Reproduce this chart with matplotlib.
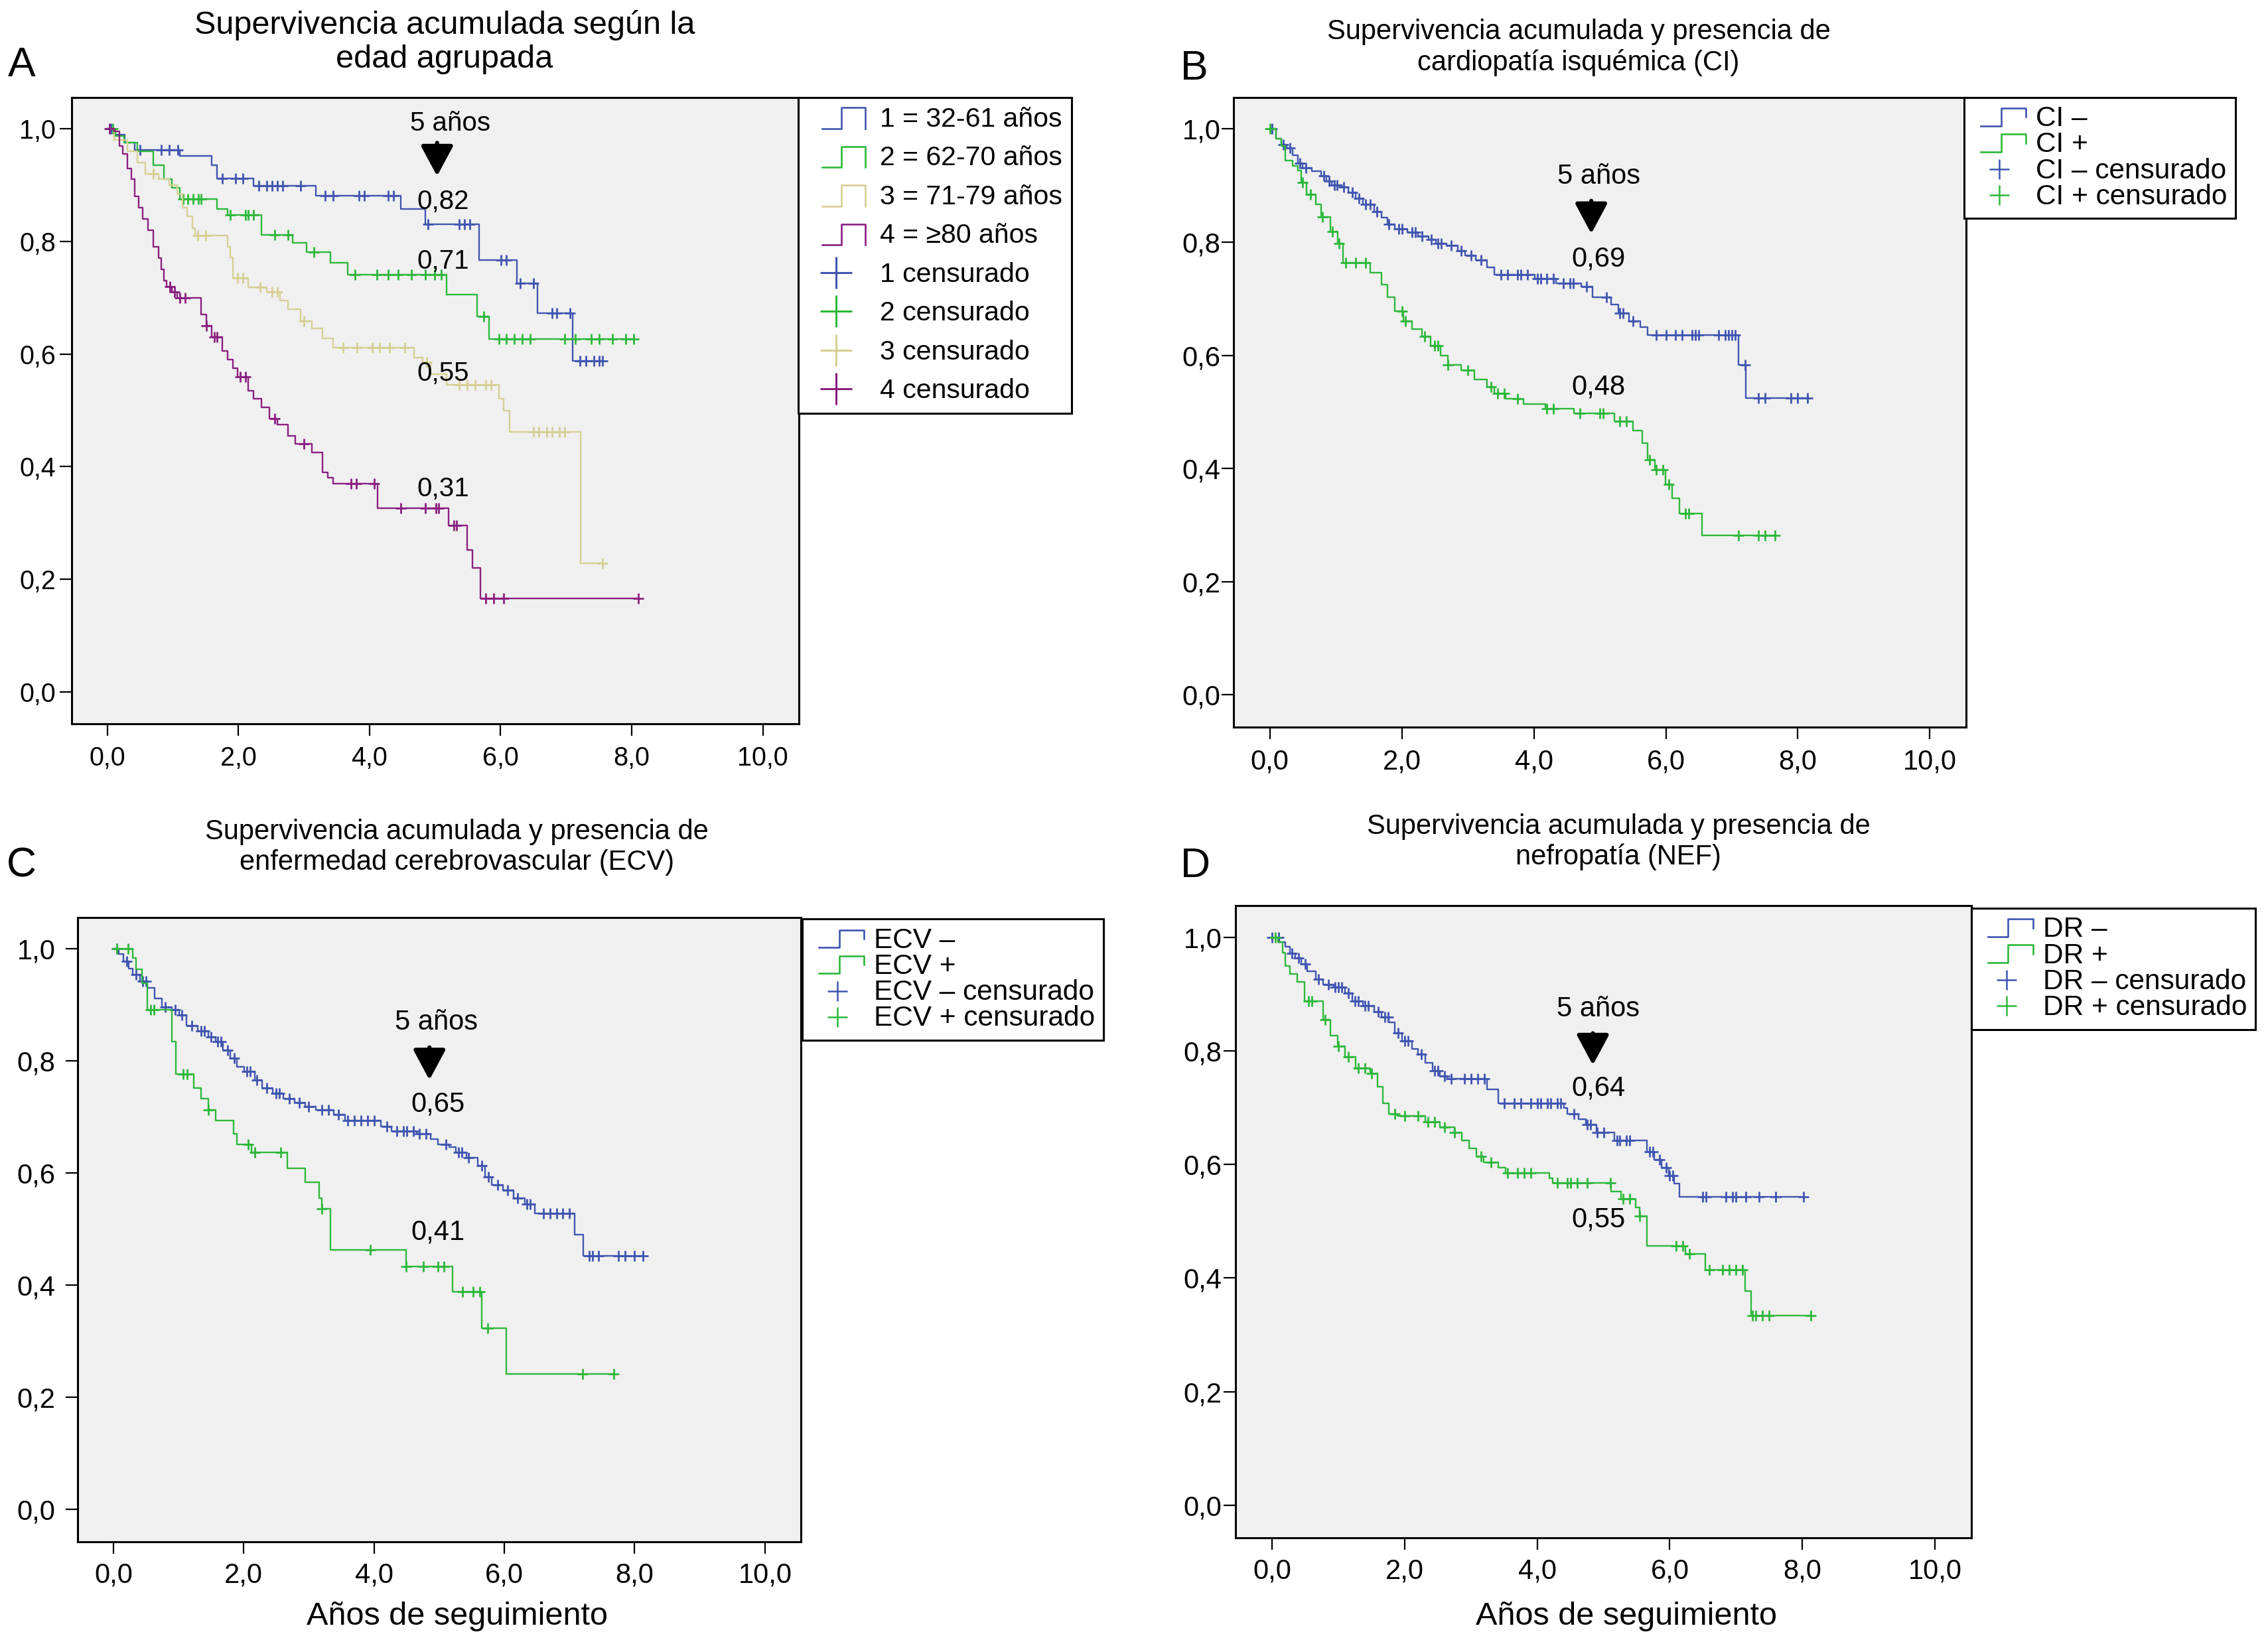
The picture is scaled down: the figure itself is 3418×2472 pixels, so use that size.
import numpy as np
import matplotlib
matplotlib.use('Agg')
import matplotlib.pyplot as plt
from matplotlib.lines import Line2D
from matplotlib.legend_handler import HandlerBase

plt.rcParams['font.family'] = ['Liberation Sans', 'DejaVu Sans']

BLUE = '#3f55b0'
GREEN = '#2db83a'
TAN = '#d6cf94'
PURPLE = '#8a1f80'

# ---- panel A: age groups ----
a1_t = [0, 0.10, 0.26, 0.42, 1.10, 1.59, 1.67, 2.23, 3.18, 4.48, 4.85, 5.67, 6.25, 6.56, 7.10]
a1_s = [1.0, 0.99, 0.975, 0.963, 0.952, 0.935, 0.912, 0.899, 0.881, 0.858, 0.831, 0.767, 0.725, 0.672, 0.588]
a1_c = [0.05, 0.50, 0.82, 0.94, 1.07, 1.75, 1.95, 2.07, 2.31, 2.43, 2.51, 2.59, 2.67, 2.95, 3.32, 3.44,
        3.84, 3.92, 4.28, 4.36, 4.89, 5.37, 5.45, 5.53, 6.01, 6.09, 6.30, 6.50, 6.78, 6.86, 7.06,
        7.21, 7.30, 7.42, 7.50, 7.55]

a2_t = [0, 0.12, 0.25, 0.46, 0.70, 0.86, 0.98, 1.10, 1.67, 1.83, 2.35, 2.83, 3.04, 3.40, 3.67, 5.17, 5.64, 5.82]
a2_s = [1.0, 0.987, 0.975, 0.96, 0.935, 0.91, 0.895, 0.875, 0.858, 0.847, 0.812, 0.797, 0.781, 0.762, 0.741,
        0.705, 0.667, 0.627]
a2_c = [0.08, 1.15, 1.23, 1.31, 1.39, 1.43, 1.87, 2.11, 2.15, 2.23, 2.55, 2.75, 3.15, 3.78, 4.11, 4.28,
        4.44, 4.64, 4.85, 4.99, 5.09, 5.74, 5.97, 6.09, 6.21, 6.33, 6.45, 6.98, 7.14, 7.38, 7.50, 7.71,
        7.91, 8.03]

a3_t = [0, 0.10, 0.30, 0.46, 0.58, 0.78, 0.94, 1.06, 1.14, 1.22, 1.30, 1.34, 1.83, 1.87, 1.91, 2.15, 2.43,
        2.63, 2.75, 2.95, 3.12, 3.28, 3.44, 4.68, 4.81, 4.93, 5.17, 5.97, 6.05, 6.14, 7.22]
a3_s = [1.0, 0.98, 0.96, 0.94, 0.92, 0.91, 0.90, 0.885, 0.86, 0.845, 0.823, 0.81, 0.79, 0.771, 0.735, 0.719,
        0.71, 0.695, 0.68, 0.659, 0.645, 0.628, 0.611, 0.594, 0.585, 0.564, 0.545, 0.52, 0.499, 0.462, 0.228]
a3_c = [0.70, 1.38, 1.50, 1.99, 2.07, 2.33, 2.51, 2.59, 3.00, 3.60, 3.81, 4.04, 4.15, 4.30, 4.54, 4.87,
        5.37, 5.49, 5.61, 5.77, 5.85, 6.50, 6.58, 6.70, 6.78, 6.90, 6.98, 7.55]

a4_t = [0, 0.10, 0.18, 0.23, 0.30, 0.36, 0.42, 0.48, 0.54, 0.62, 0.70, 0.78, 0.82, 0.86, 0.90, 0.98, 1.06,
        1.43, 1.51, 1.59, 1.75, 1.83, 1.91, 1.99, 2.15, 2.23, 2.35, 2.47, 2.59, 2.75, 2.87, 3.12, 3.28,
        3.36, 3.44, 4.12, 5.21, 5.49, 5.57, 5.69]
a4_s = [1.0, 0.996, 0.97, 0.955, 0.93, 0.91, 0.88, 0.86, 0.84, 0.82, 0.79, 0.77, 0.75, 0.73, 0.72, 0.71,
        0.70, 0.67, 0.65, 0.63, 0.605, 0.59, 0.575, 0.56, 0.535, 0.52, 0.505, 0.485, 0.475, 0.455, 0.44,
        0.425, 0.39, 0.38, 0.37, 0.326, 0.296, 0.252, 0.22, 0.166]
a4_c = [0.03, 0.95, 1.02, 1.10, 1.18, 1.51, 1.63, 1.67, 2.03, 2.11, 2.55, 3.00, 3.72, 3.80, 4.07, 4.48,
        4.85, 5.01, 5.05, 5.29, 5.33, 5.77, 5.89, 6.05, 8.10]

# ---- panel B: cardiopatia isquemica ----
b1_t = [0, 0.09, 0.17, 0.25, 0.34, 0.42, 0.50, 0.64, 0.78, 0.86, 0.94, 1.08, 1.19, 1.30, 1.41, 1.58, 1.69,
        1.78, 1.89, 2.08, 2.24, 2.41, 2.52, 2.68, 2.85, 2.96, 3.12, 3.29, 3.40, 4.01, 4.34, 4.72, 4.89,
        5.17, 5.28, 5.44, 5.61, 5.72, 7.10, 7.21]
b1_s = [1.0, 0.983, 0.972, 0.966, 0.953, 0.940, 0.931, 0.925, 0.917, 0.908, 0.901, 0.897, 0.888, 0.877,
        0.867, 0.854, 0.843, 0.832, 0.824, 0.818, 0.811, 0.805, 0.798, 0.794, 0.785, 0.776, 0.768, 0.755,
        0.742, 0.736, 0.727, 0.721, 0.703, 0.690, 0.675, 0.660, 0.650, 0.636, 0.583, 0.525]
b1_c = [0.03, 0.20, 0.30, 0.45, 0.55, 0.82, 0.90, 0.98, 1.02, 1.12, 1.25, 1.35, 1.45, 1.52, 1.62, 1.80,
        1.95, 2.00, 2.15, 2.20, 2.30, 2.45, 2.55, 2.60, 2.75, 2.90, 3.05, 3.20, 3.50, 3.60, 3.75, 3.80,
        3.90, 4.05, 4.10, 4.20, 4.30, 4.45, 4.55, 4.60, 4.80, 5.10, 5.30, 5.35, 5.50, 5.85, 6.00, 6.15,
        6.25, 6.40, 6.45, 6.50, 6.80, 6.90, 6.95, 7.00, 7.05, 7.20, 7.40, 7.50, 7.90, 8.00, 8.15]

b2_t = [0, 0.09, 0.17, 0.23, 0.34, 0.42, 0.47, 0.56, 0.70, 0.78, 0.92, 1.03, 1.11, 1.52, 1.69, 1.78, 1.89,
        2.02, 2.15, 2.30, 2.44, 2.59, 2.70, 2.90, 3.10, 3.29, 3.40, 3.57, 3.84, 4.17, 4.61, 5.22, 5.50,
        5.64, 5.72, 5.83, 5.99, 6.10, 6.21, 6.55]
b2_s = [1.0, 0.983, 0.970, 0.944, 0.935, 0.927, 0.905, 0.884, 0.867, 0.845, 0.819, 0.798, 0.764, 0.746,
        0.725, 0.703, 0.678, 0.660, 0.647, 0.634, 0.617, 0.600, 0.583, 0.574, 0.557, 0.544, 0.533, 0.523,
        0.514, 0.506, 0.497, 0.484, 0.467, 0.445, 0.415, 0.398, 0.372, 0.347, 0.321, 0.282]
b2_c = [0.00, 0.50, 0.62, 0.80, 0.95, 1.05, 1.15, 1.30, 1.45, 2.00, 2.05, 2.35, 2.50, 2.55, 2.70, 3.00,
        3.35, 3.45, 3.55, 3.75, 4.20, 4.30, 4.70, 5.00, 5.05, 5.30, 5.40, 5.75, 5.85, 5.95, 6.05, 6.30,
        6.35, 7.10, 7.40, 7.50, 7.65]

# ---- panel C: enfermedad cerebrovascular ----
c1_t = [0, 0.08, 0.15, 0.24, 0.30, 0.41, 0.52, 0.63, 0.74, 0.90, 1.01, 1.12, 1.29, 1.46, 1.57, 1.68, 1.79,
        1.90, 2.01, 2.17, 2.28, 2.45, 2.61, 2.78, 2.94, 3.11, 3.38, 3.55, 4.10, 4.27, 4.65, 4.87, 4.98,
        5.15, 5.26, 5.42, 5.59, 5.70, 5.81, 5.98, 6.14, 6.31, 6.47, 7.08, 7.21]
c1_s = [1.0, 0.990, 0.978, 0.965, 0.954, 0.942, 0.930, 0.911, 0.896, 0.891, 0.882, 0.863, 0.853, 0.843,
        0.834, 0.819, 0.805, 0.790, 0.781, 0.766, 0.752, 0.742, 0.733, 0.726, 0.718, 0.713, 0.704, 0.694,
        0.683, 0.675, 0.670, 0.660, 0.651, 0.646, 0.637, 0.627, 0.613, 0.593, 0.579, 0.569, 0.555, 0.545,
        0.528, 0.490, 0.452]
c1_c = [0.05, 0.20, 0.35, 0.45, 0.50, 0.80, 0.95, 1.05, 1.20, 1.35, 1.40, 1.50, 1.60, 1.65, 1.75, 1.85,
        2.05, 2.10, 2.20, 2.35, 2.50, 2.55, 2.70, 2.85, 3.00, 3.20, 3.30, 3.45, 3.60, 3.70, 3.80, 3.90,
        4.00, 4.20, 4.35, 4.45, 4.50, 4.60, 4.70, 4.80, 5.10, 5.30, 5.35, 5.45, 5.65, 5.75, 5.90, 6.05,
        6.20, 6.35, 6.40, 6.60, 6.70, 6.80, 6.90, 7.00, 7.30, 7.35, 7.45, 7.75, 7.85, 8.00, 8.13]

c2_t = [0, 0.30, 0.35, 0.44, 0.52, 0.90, 0.96, 1.23, 1.35, 1.46, 1.57, 1.84, 1.90, 2.12, 2.67, 2.94, 3.16,
        3.20, 3.33, 4.49, 5.20, 5.65, 6.03]
c2_s = [1.0, 0.983, 0.963, 0.939, 0.891, 0.834, 0.776, 0.752, 0.733, 0.713, 0.694, 0.670, 0.651, 0.637,
        0.608, 0.584, 0.555, 0.536, 0.463, 0.433, 0.388, 0.324, 0.242]
c2_c = [0.05, 0.22, 0.57, 0.62, 1.07, 1.13, 1.46, 2.07, 2.17, 2.57, 3.20, 3.94, 4.49, 4.76, 4.98, 5.07,
        5.36, 5.52, 5.62, 5.74, 7.20, 7.68]

# ---- panel D: nefropatia ----
d1_t = [0, 0.11, 0.20, 0.27, 0.35, 0.44, 0.53, 0.66, 0.77, 0.93, 1.10, 1.21, 1.37, 1.54, 1.65, 1.76, 1.85,
        1.96, 2.11, 2.20, 2.31, 2.42, 2.53, 2.64, 3.24, 3.41, 4.40, 4.45, 4.62, 4.73, 4.89, 5.16, 5.66,
        5.77, 5.88, 5.99, 6.07, 6.15]
d1_s = [1.0, 0.992, 0.983, 0.972, 0.964, 0.953, 0.940, 0.926, 0.917, 0.912, 0.902, 0.888, 0.879, 0.869,
        0.860, 0.850, 0.831, 0.817, 0.803, 0.794, 0.779, 0.765, 0.756, 0.751, 0.732, 0.708, 0.699, 0.689,
        0.680, 0.670, 0.656, 0.642, 0.623, 0.609, 0.595, 0.580, 0.566, 0.543]
d1_c = [0.00, 0.10, 0.30, 0.40, 0.50, 0.70, 0.85, 0.95, 1.00, 1.05, 1.15, 1.25, 1.30, 1.40, 1.45, 1.60,
        1.70, 1.75, 1.90, 2.00, 2.05, 2.25, 2.45, 2.50, 2.60, 2.70, 2.90, 3.00, 3.10, 3.20, 3.50, 3.65,
        3.75, 3.90, 4.00, 4.05, 4.15, 4.20, 4.30, 4.35, 4.55, 4.75, 4.80, 4.90, 5.00, 5.20, 5.25, 5.35,
        5.40, 5.70, 5.75, 5.85, 5.95, 6.00, 6.05, 6.50, 6.55, 6.85, 6.95, 7.00, 7.15, 7.35, 7.60, 8.02]

d2_t = [0, 0.09, 0.16, 0.20, 0.27, 0.38, 0.49, 0.77, 0.88, 0.99, 1.10, 1.26, 1.48, 1.59, 1.67, 1.76, 1.89,
        2.31, 2.53, 2.75, 2.86, 2.97, 3.08, 3.19, 3.41, 3.52, 4.18, 4.23, 5.11, 5.27, 5.49, 5.55, 5.66,
        6.24, 6.54, 7.14, 7.23]
d2_s = [1.0, 0.991, 0.973, 0.950, 0.936, 0.921, 0.888, 0.855, 0.827, 0.808, 0.789, 0.770, 0.760, 0.737,
        0.708, 0.689, 0.685, 0.675, 0.666, 0.656, 0.642, 0.628, 0.614, 0.604, 0.595, 0.585, 0.576, 0.568,
        0.552, 0.540, 0.524, 0.509, 0.457, 0.443, 0.415, 0.377, 0.334]
d2_c = [0.05, 0.55, 0.60, 0.80, 1.00, 1.15, 1.30, 1.40, 1.50, 1.85, 2.00, 2.20, 2.35, 2.45, 2.60, 2.75,
        3.15, 3.30, 3.55, 3.70, 3.80, 3.90, 4.30, 4.45, 4.50, 4.60, 4.75, 5.10, 5.30, 5.40, 5.55, 6.10,
        6.20, 6.30, 6.60, 6.80, 6.90, 7.00, 7.10, 7.25, 7.30, 7.40, 7.50, 8.13]

tick_vals = [0, 2, 4, 6, 8, 10]
xtick_labels = ['0,0', '2,0', '4,0', '6,0', '8,0', '10,0']
ytick_vals = [0, 0.2, 0.4, 0.6, 0.8, 1.0]
ytick_labels = ['0,0', '0,2', '0,4', '0,6', '0,8', '1,0']


class StepLine(Line2D):
    pass


class HandlerStep(HandlerBase):
    def __init__(self, start=0.0, tail=0.0):
        super().__init__()
        self.start = start
        self.tail = tail

    def create_artists(self, legend, orig_handle, xdescent, ydescent, width, height, fontsize, trans):
        x0 = -xdescent + self.start * width
        x1 = -xdescent + width
        xm = x0 + 0.45 * (x1 - x0)
        lo = -ydescent - 0.1 * height
        hi = -ydescent + 1.0 * height
        xs = [x0, xm, xm, x1, x1]
        ys = [lo, lo, hi, hi, lo + self.tail * (hi - lo)]
        ln = Line2D(xs, ys, color=orig_handle.get_color(), lw=orig_handle.get_linewidth())
        ln.set_transform(trans)
        return [ln]


def km(ax, t, s, c, color, ms=11):
    t = np.array(t)
    s = np.array(s)
    c = np.array(c)
    end = max(t.max(), c.max())
    ax.step(np.append(t, end), np.append(s, s[-1]), where='post', color=color, lw=1.7)
    idx = np.searchsorted(t, c, side='right') - 1
    ax.plot(c, s[idx], ls='none', marker='+', ms=ms, mew=2.0, color=color)


def style_axes(ax, fs, ypad, xpad):
    ax.set_facecolor('#f0f0f0')
    ax.set_xlim(-0.55, 10.55)
    ax.set_ylim(-0.057, 1.056)
    ax.set_xticks(tick_vals)
    ax.set_xticklabels(xtick_labels)
    ax.set_yticks(ytick_vals)
    ax.set_yticklabels(ytick_labels)
    for sp in ax.spines.values():
        sp.set_linewidth(2.2)
        sp.set_color('black')
    ax.tick_params(axis='both', direction='out', length=13, width=1.6, labelsize=fs, top=False, right=False)
    ax.tick_params(axis='x', pad=xpad)
    ax.tick_params(axis='y', pad=ypad)


def five_years(ax, xa, y0, y1, xt, yt, labels, fs):
    ax.annotate('', xy=(xa, y1), xytext=(xa, y0),
                arrowprops=dict(arrowstyle='-|>,head_length=1.4,head_width=0.75', lw=4.5, color='black',
                                mutation_scale=20, shrinkA=0, shrinkB=0))
    ax.text(xt, yt, '5 años', ha='center', va='center', fontsize=fs)
    for lx, ly, lab in labels:
        ax.text(lx, ly, lab, ha='center', va='center', fontsize=fs)


fig = plt.figure(figsize=(34.18, 24.72), dpi=100)

axA = fig.add_axes([0.0315, 0.5586, 0.3207, 0.3821])
axB = fig.add_axes([0.5439, 0.5566, 0.3230, 0.3841])
axC = fig.add_axes([0.0342, 0.0600, 0.3189, 0.3807])
axD = fig.add_axes([0.5448, 0.0624, 0.3244, 0.3855])

# panel A
style_axes(axA, 28.5, 4, 10.5)
km(axA, a1_t, a1_s, a1_c, BLUE)
km(axA, a2_t, a2_s, a2_c, GREEN)
km(axA, a3_t, a3_s, a3_c, TAN)
km(axA, a4_t, a4_s, a4_c, PURPLE)
five_years(axA, 5.03, 0.975, 0.916, 5.23, 1.009,
           [(5.12, 0.870, '0,82'), (5.12, 0.765, '0,71'), (5.12, 0.565, '0,55'), (5.12, 0.360, '0,31')], 29)
hA = [StepLine([], [], color=BLUE, lw=1.9), StepLine([], [], color=GREEN, lw=1.9),
      StepLine([], [], color=TAN, lw=1.9), StepLine([], [], color=PURPLE, lw=1.9)]
hA += [Line2D([], [], ls='none', marker='+', ms=34, mew=2.2, color=col) for col in [BLUE, GREEN, TAN, PURPLE]]
labA = ['1 = 32-61 años', '2 = 62-70 años', '3 = 71-79 años', '4 = ≥80 años',
        '1 censurado', '2 censurado', '3 censurado', '4 censurado']
legA = axA.legend(hA, labA, loc='upper left', bbox_to_anchor=(0.352, 0.9407), bbox_transform=fig.transFigure,
                  borderaxespad=0, fancybox=False, framealpha=1, edgecolor='black', fontsize=29.5,
                  handler_map={StepLine: HandlerStep(0.25, 0.0)}, handlelength=2.1, handletextpad=0.55,
                  borderpad=0.35, labelspacing=0.5)
legA.get_frame().set_linewidth(2.2)

# panels B, C, D
panels = [
    (axB, [(b1_t, b1_s, b1_c, BLUE), (b2_t, b2_s, b2_c, GREEN)], 1, 10.5,
     (4.87, 0.873, 0.815, 4.98, 0.916, [(4.98, 0.770, '0,69'), (4.98, 0.544, '0,48')]),
     ['CI –', 'CI +', 'CI – censurado', 'CI + censurado'], (0.866, 0.9407)),
    (axC, [(c1_t, c1_s, c1_c, BLUE), (c2_t, c2_s, c2_c, GREEN)], 11, 9,
     (4.85, 0.824, 0.766, 4.96, 0.869, [(4.98, 0.723, '0,65'), (4.98, 0.494, '0,41')]),
     ['ECV –', 'ECV +', 'ECV – censurado', 'ECV + censurado'], (0.3537, 0.4397)),
    (axD, [(d1_t, d1_s, d1_c, BLUE), (d2_t, d2_s, d2_c, GREEN)], 2, 9,
     (4.84, 0.831, 0.775, 4.92, 0.874, [(4.92, 0.734, '0,64'), (4.92, 0.503, '0,55')]),
     ['DR –', 'DR +', 'DR – censurado', 'DR + censurado'], (0.8692, 0.4463)),
]
for ax, groups, ypad, xpad, fy, labs, anchor in panels:
    style_axes(ax, 30, ypad, xpad)
    for t, s, c, col in groups:
        km(ax, t, s, c, col)
    five_years(ax, fy[0], fy[1], fy[2], fy[3], fy[4], fy[5], 30)
    hh = [StepLine([], [], color=BLUE, lw=1.9), StepLine([], [], color=GREEN, lw=1.9),
          Line2D([], [], ls='none', marker='+', ms=22, mew=1.8, color=BLUE),
          Line2D([], [], ls='none', marker='+', ms=22, mew=1.8, color=GREEN)]
    lg = ax.legend(hh, labs, loc='upper left', bbox_to_anchor=anchor, bbox_transform=fig.transFigure,
                   borderaxespad=0, fancybox=False, framealpha=1, edgecolor='black', fontsize=30.5,
                   handler_map={StepLine: HandlerStep(0.15, 0.5)}, handlelength=1.9, handletextpad=0.35,
                   borderpad=0.3, labelspacing=-0.02, handleheight=0.5)
    lg.get_frame().set_linewidth(2.2)

# titles and panel letters
fig.text(0.196, 0.9745, 'Supervivencia acumulada según la\nedad agrupada', ha='center', va='center',
         fontsize=35, linespacing=1.17)
fig.text(0.696, 0.971, 'Supervivencia acumulada y presencia de\ncardiopatía isquémica (CI)', ha='center',
         va='center', fontsize=30, linespacing=1.17)
fig.text(0.2014, 0.4834, 'Supervivencia acumulada y presencia de\nenfermedad cerebrovascular (ECV)',
         ha='center', va='center', fontsize=30, linespacing=1.17)
fig.text(0.7137, 0.4867, 'Supervivencia acumulada y presencia de\nnefropatía (NEF)', ha='center',
         va='center', fontsize=30, linespacing=1.17)
fig.text(0.0035, 0.960, 'A', ha='left', va='center', fontsize=45)
fig.text(0.5205, 0.958, 'B', ha='left', va='center', fontsize=45)
fig.text(0.003, 0.4719, 'C', ha='left', va='center', fontsize=45)
fig.text(0.5205, 0.4719, 'D', ha='left', va='center', fontsize=45)

fig.text(0.2017, 0.0142, 'Años de seguimiento', ha='center', va='center', fontsize=35)
fig.text(0.717, 0.0142, 'Años de seguimiento', ha='center', va='center', fontsize=35)

fig.savefig('out.png', dpi=100, facecolor='white')
